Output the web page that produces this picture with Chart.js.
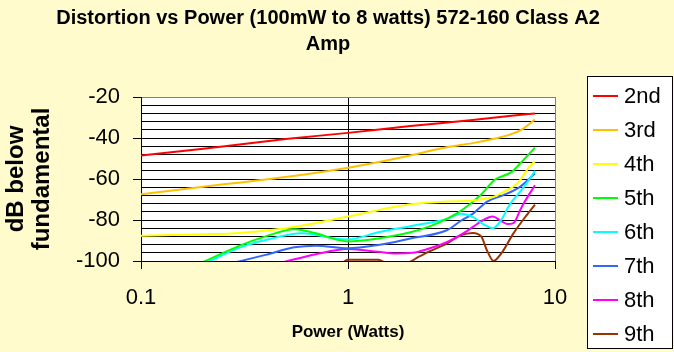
<!DOCTYPE html>
<html>
<head>
<meta charset="utf-8">
<title>Distortion vs Power</title>
<script src="https://cdn.jsdelivr.net/npm/chart.js@4.4.0/dist/chart.umd.min.js"></script>
<style>
  html, body { margin: 0; padding: 0; background: #FFFBCC; }
  #wrap { width: 674px; height: 352px; }
</style>
</head>
<body>
<div id="wrap"><canvas id="distChart" width="674" height="352"></canvas></div>
<script>
// harmonic names + colours (Excel default line palette)
const seriesNames = ['2nd', '3rd', '4th', '5th', '6th', '7th', '8th', '9th'];
const seriesColors = ['#FF0000', '#FFC000', '#FFFF00', '#00FF00', '#00FFFF', '#3366FF', '#FF00FF', '#993300'];

const xTicks = [0.1, 1, 10];      // Power (Watts), log axis
const yMin = -100, yMax = -20;    // dB below fundamental
const yStep = 4, yLabelStep = 20;

// [power W, dB]
const h2 = [[0.1,-48.5],[0.2,-45.2],[0.5,-40.5],[1,-37.5],[2,-34.2],[4,-31.2],[6,-29.3],[8,-28]];
const h3 = [[0.1,-67.5],[0.2,-63.8],[0.5,-59],[1,-54.5],[2,-48.5],[3,-44.5],[4,-42.5],[5,-40.5],[6,-38.5],[7,-35.5],[8,-31]];
const h4 = [[0.1,-87.7],[0.2,-87],[0.3,-86.3],[0.5,-84],[0.7,-81.5],[1,-78.3],[1.4,-75.2],[2,-72.3],[3,-71],[4,-70.5],[5,-68.8],[5.6,-66.5],[6.6,-62],[7.6,-53.5],[8,-51.5]];
const h5 = [[0.2,-100.5],[0.3,-92.5],[0.4,-88],[0.55,-84.5],[0.7,-86.5],[0.9,-89.8],[1,-90.5],[1.4,-89],[2,-86],[2.5,-83],[3,-79.5],[3.57,-75],[4.37,-67.8],[5.1,-60.5],[6.2,-56.4],[6.8,-52.3],[8,-44.7]];
const h6 = [[0.21,-100.5],[0.3,-93.5],[0.4,-89.8],[0.6,-86.5],[0.9,-89.3],[1,-89.5],[1.4,-86],[2,-83],[3,-79.5],[3.5,-77],[4,-78.5],[4.5,-82],[5,-84],[5.5,-80],[6,-73],[6.8,-66],[7.3,-62],[8,-56]];
const h7 = [[0.29,-100.5],[0.4,-97],[0.55,-93.3],[0.7,-92.5],[1,-93.8],[1.4,-92.2],[2,-89],[3,-85],[3.5,-80.5],[4,-77],[4.7,-71],[5.6,-68],[6.8,-63.7],[8,-57.3]];
const h8 = [[0.49,-100.5],[0.7,-96.7],[1,-94.2],[1.4,-95.5],[1.7,-96.3],[2.05,-96],[2.45,-94],[3,-90.8],[3.5,-87.3],[4,-83.5],[4.5,-80],[5,-78.3],[5.5,-80.5],[5.9,-82],[6.3,-81.5],[6.8,-75],[7.1,-71.5],[8,-63]];
const h9 = [[0.95,-100.5],[1,-99.4],[1.4,-99.4],[1.5,-100.5],[1.9,-101],[2.2,-97.9],[2.45,-95.5],[3,-91.5],[3.5,-87.5],[4,-86.3],[4.4,-88],[4.7,-95],[5.05,-100],[5.5,-96.3],[6.3,-86.5],[7.3,-77.6],[8,-72.5]];

const allSeries = [h2, h3, h4, h5, h6, h7, h8, h9];

const FONT = 'Arial, "Liberation Sans", sans-serif';
Chart.defaults.font.family = FONT;
Chart.defaults.color = '#000';

// page + plot area backgrounds
const bgPlugin = {
  id: 'bg',
  beforeDraw(chart) {
    const {ctx, chartArea: a} = chart;
    ctx.save();
    ctx.fillStyle = '#FFFBCC';
    ctx.fillRect(0, 0, chart.width, chart.height);
    ctx.fillStyle = '#FFFFFF';
    ctx.fillRect(a.left, a.top, a.right - a.left, a.bottom - a.top);
    ctx.restore();
  }
};

// boxed legend on the right, Excel style
const boxLegend = {
  id: 'boxLegend',
  afterDraw(chart) {
    const ctx = chart.ctx;
    const bx = 587, by = 76, bw = 85, bh = 272, row0 = 96, rowStep = 34;
    ctx.save();
    ctx.fillStyle = '#FFFFFF';
    ctx.fillRect(bx, by, bw, bh);
    ctx.strokeStyle = '#000';
    ctx.lineWidth = 1;
    ctx.strokeRect(bx + 0.5, by + 0.5, bw, bh);
    ctx.font = '22px ' + FONT;
    ctx.textBaseline = 'middle';
    chart.data.datasets.forEach((ds, i) => {
      const y = row0 + i * rowStep;
      ctx.strokeStyle = ds.borderColor;
      ctx.lineWidth = 2;
      ctx.beginPath();
      ctx.moveTo(bx + 6, y);
      ctx.lineTo(bx + 31, y);
      ctx.stroke();
      ctx.fillStyle = '#000';
      ctx.fillText(ds.label, bx + 37, y + 1);
    });
    ctx.restore();
  }
};

new Chart(document.getElementById('distChart'), {
  type: 'line',
  data: {
    datasets: allSeries.map((pts, i) => ({
      label: seriesNames[i],
      data: pts.map(p => ({x: p[0], y: p[1]})),
      borderColor: seriesColors[i],
      backgroundColor: seriesColors[i],
      borderWidth: 2,
      pointRadius: 0,
      fill: false,
      cubicInterpolationMode: 'monotone'
    }))
  },
  options: {
    responsive: false,
    animation: false,
    devicePixelRatio: 1,
    layout: { padding: { left: 0, right: 18, top: 0, bottom: 0 } },
    plugins: {
      legend: { display: false },
      tooltip: { enabled: false },
      title: {
        display: true,
        text: ['Distortion vs Power (100mW to 8 watts) 572-160 Class A2', 'Amp'],
        font: { size: 20, weight: 'bold', lineHeight: 1.3 },
        color: '#000',
        padding: { top: 5, bottom: 40 }
      }
    },
    scales: {
      x: {
        type: 'logarithmic',
        position: 'bottom',
        min: xTicks[0],
        max: xTicks[xTicks.length - 1],
        afterBuildTicks: s => { s.ticks = xTicks.map(v => ({ value: v })); },
        afterFit: s => { s.height = 91; },
        ticks: {
          autoSkip: false,
          maxRotation: 0,
          padding: 16,
          font: { size: 22 },
          callback: v => String(v)
        },
        grid: {
          color: c => (c.tick && c.tick.value === 10 ? '#808080' : '#000'),
          tickColor: '#000',
          tickLength: 8,
          lineWidth: 1
        },
        border: { color: '#000', width: 1 },
        title: {
          display: true,
          text: 'Power (Watts)',
          font: { size: 17, weight: 'bold' },
          padding: { top: 0, bottom: 9 }
        }
      },
      y: {
        type: 'linear',
        position: 'left',
        min: yMin,
        max: yMax,
        afterFit: s => { s.width = 141; },
        ticks: {
          stepSize: yStep,
          autoSkip: false,
          padding: 13,
          font: { size: 22 },
          callback: v => (v % yLabelStep === 0 ? String(v) : '')
        },
        grid: {
          color: c => (c.tick && c.tick.value === yMax ? '#808080' : '#000'),
          tickColor: c => (c.tick && c.tick.value % yLabelStep === 0 ? '#000' : 'rgba(0,0,0,0)'),
          tickLength: 8,
          lineWidth: 1
        },
        border: { color: '#000', width: 1 },
        title: {
          display: true,
          text: ['dB below', 'fundamental'],
          font: { size: 24, weight: 'bold', lineHeight: 1.1 },
          padding: { top: 3, bottom: 0 }
        }
      },
      // empty axis that only reserves the legend column
      legendSpace: {
        type: 'linear',
        position: 'right',
        display: true,
        afterFit: s => { s.width = 101; },
        ticks: { display: false },
        grid: { display: false },
        border: { display: false }
      }
    }
  },
  plugins: [bgPlugin, boxLegend]
});
</script>
</body>
</html>
